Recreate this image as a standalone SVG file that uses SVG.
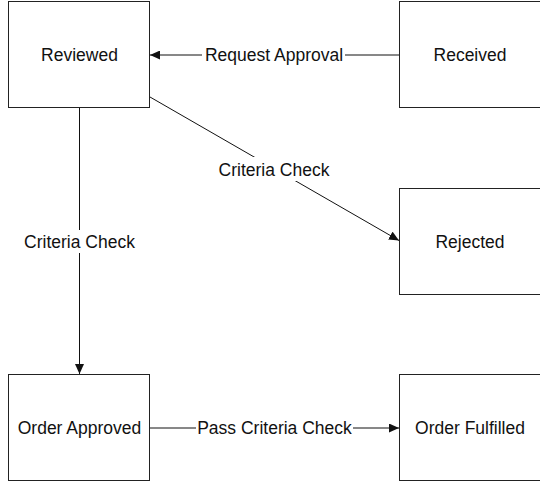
<svg xmlns="http://www.w3.org/2000/svg" width="540" height="487" viewBox="0 0 540 487">
<style>
.box{fill:#fff;stroke:#222;stroke-width:1}
.t{font-family:"Liberation Sans",Arial,sans-serif;font-size:17.5px;fill:#111;text-anchor:middle}
.ln{stroke:#111;stroke-width:1;fill:none}
.bg{fill:#fff}
</style>
<defs>
<marker id="arr" markerUnits="userSpaceOnUse" markerWidth="11" markerHeight="9" refX="10" refY="4.5" orient="auto">
<path d="M0,0 L10,4.5 L0,9 z" fill="#111"/>
</marker>
</defs>
<rect width="540" height="487" fill="#fff"/>
<g id="connectors">
<line class="ln" x1="399.5" y1="55" x2="150" y2="55" marker-end="url(#arr)"/>
<rect class="bg" x="202" y="43.5" width="143" height="23"/>
<text class="t" x="274" y="61">Request Approval</text>
<line class="ln" x1="150" y1="97" x2="399" y2="240.5" marker-end="url(#arr)"/>
<rect class="bg" x="217" y="157" width="114" height="24"/>
<text class="t" x="274" y="175.5">Criteria Check</text>
<line class="ln" x1="79.5" y1="108" x2="79.5" y2="374" marker-end="url(#arr)"/>
<rect class="bg" x="22" y="230" width="115" height="23"/>
<text class="t" x="79.5" y="247.5">Criteria Check</text>
<line class="ln" x1="150" y1="428" x2="399" y2="428" marker-end="url(#arr)"/>
<rect class="bg" x="196" y="416.5" width="157" height="23"/>
<text class="t" x="274.5" y="434">Pass Criteria Check</text>
</g>
<g id="reviewed">
<rect class="box" x="8.5" y="1.5" width="141" height="106"/>
<text class="t" x="79.5" y="61">Reviewed</text>
</g>
<g id="received">
<rect class="box" x="399.5" y="1.5" width="141" height="106"/>
<text class="t" x="470" y="61">Received</text>
</g>
<g id="rejected">
<rect class="box" x="399.5" y="188.5" width="141" height="106"/>
<text class="t" x="470" y="248">Rejected</text>
</g>
<g id="order-approved">
<rect class="box" x="8.5" y="374.5" width="141" height="106"/>
<text class="t" x="79.5" y="434">Order Approved</text>
</g>
<g id="order-fulfilled">
<rect class="box" x="399.5" y="374.5" width="141" height="106"/>
<text class="t" x="470" y="434">Order Fulfilled</text>
</g>
</svg>
